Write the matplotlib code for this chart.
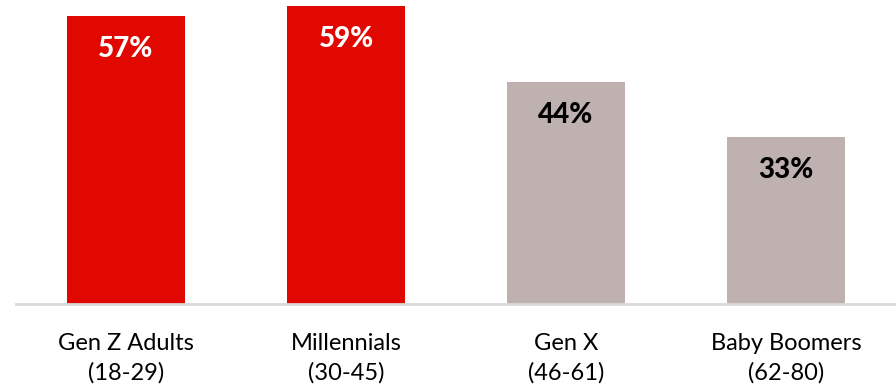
import matplotlib
matplotlib.use("Agg")
import matplotlib.pyplot as plt

# generations and share of each
categories = ["Gen Z Adults\n(18-29)", "Millennials\n(30-45)", "Gen X\n(46-61)", "Baby Boomers\n(62-80)"]
values = [57, 59, 44, 33]
bar_colors = ["#E00800", "#E00800", "#BFB1B0", "#BFB1B0"]
label_colors = ["white", "white", "black", "black"]

plt.rcParams["font.family"] = ["Lato", "DejaVu Sans"]

fig = plt.figure(figsize=(8.96, 3.87), dpi=100)
ax = fig.add_axes([16 / 896, 83 / 387, 880 / 896, 303 / 387])

x = range(len(categories))
bars = ax.bar(x, values, width=0.536, color=bar_colors, zorder=2)

for b, v, c in zip(bars, values, label_colors):
    ax.text(b.get_x() + b.get_width() / 2, v - 6.5, f"{v}%", ha="center", va="center",
            fontsize=20, fontweight=900, color=c)

ax.set_xlim(-0.5, 3.5)
ax.set_ylim(0, 60)
ax.set_xticks(list(x))
ax.set_xticklabels(categories, fontsize=17, color="black", linespacing=1.45)
ax.tick_params(axis="x", length=0, pad=21)
ax.set_yticks([])
for s in ["top", "right", "left"]:
    ax.spines[s].set_visible(False)
ax.spines["bottom"].set_color("#D9D9D9")
ax.spines["bottom"].set_linewidth(2)

fig.savefig("out.png", dpi=100)
